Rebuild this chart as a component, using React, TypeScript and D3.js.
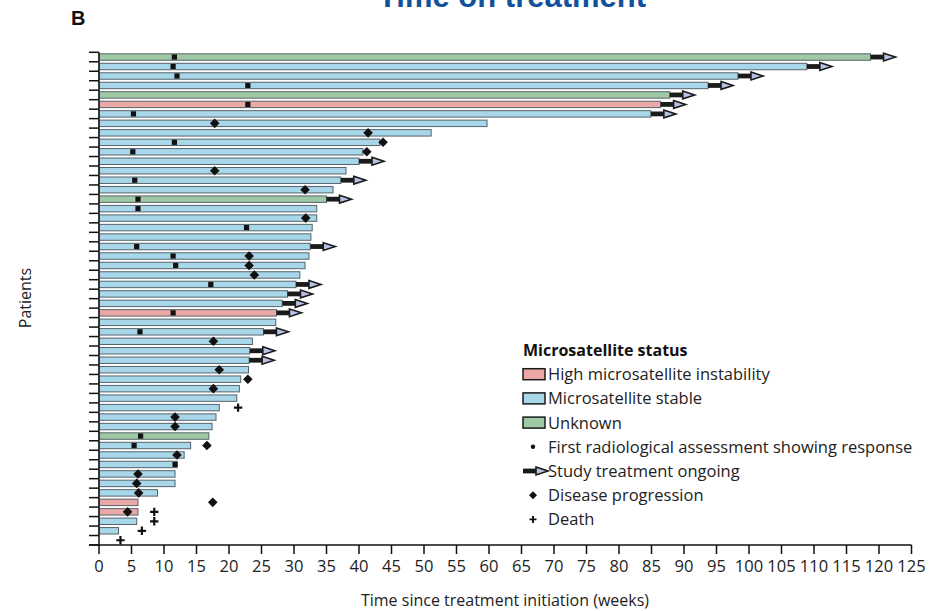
import React from "react";
import * as d3 from "d3";

// Microsatellite status per patient, top row first
const status: string[] = [
  "U", "MSS", "MSS", "MSS", "U", "MSI", "MSS", "MSS", "MSS", "MSS",
  "MSS", "MSS", "MSS", "MSS", "MSS", "U", "MSS", "MSS", "MSS", "MSS",
  "MSS", "MSS", "MSS", "MSS", "MSS", "MSS", "MSS", "MSI", "MSS", "MSS",
  "MSS", "MSS", "MSS", "MSS", "MSS", "MSS", "MSS", "MSS", "MSS", "MSS",
  "U", "MSS", "MSS", "MSS", "MSS", "MSS", "MSS", "MSI", "MSI", "MSS",
  "MSS", "MSS",
];

// Time on treatment (weeks)
const duration: number[] = [
  118.7, 108.9, 98.3, 93.7, 87.8, 86.4, 84.9, 59.7, 51.1, 43.2,
  40.6, 40.0, 38.0, 37.2, 36.0, 35.0, 33.5, 33.5, 32.8, 32.6,
  32.5, 32.3, 31.7, 30.9, 30.3, 29.0, 28.2, 27.3, 27.2, 25.3,
  23.6, 23.2, 23.1, 23.0, 21.8, 21.6, 21.2, 18.5, 18.0, 17.4,
  16.9, 14.1, 13.1, 12.0, 11.7, 11.7, 9.0, 6.0, 6.0, 5.8,
  3.0, 0,
];

// Study treatment still ongoing (1 = yes)
const ongoing: number[] = [
  1, 1, 1, 1, 1, 1, 1, 0, 0, 0,
  0, 1, 0, 1, 0, 1, 0, 0, 0, 0,
  1, 0, 0, 0, 1, 1, 1, 1, 0, 1,
  0, 1, 1, 0, 0, 0, 0, 0, 0, 0,
  0, 0, 0, 0, 0, 0, 0, 0, 0, 0,
  0, 0,
];

// First radiological assessment showing response (weeks)
const response: (number | null)[] = [
  11.6, 11.4, 12.0, 22.9, null, 22.9, 5.3, null, null, 11.6,
  5.2, null, null, 5.5, null, 6.0, 6.0, null, 22.7, null,
  5.8, 11.4, 11.8, null, 17.2, null, null, 11.4, null, 6.3,
  null, null, null, null, null, null, null, null, null, null,
  6.4, 5.4, null, 11.7, null, null, null, null, null, null,
  null, null,
];

// Disease progression (weeks)
const progression: (number | null)[] = [
  null, null, null, null, null, null, null, 17.8, 41.4, 43.7,
  41.2, null, 17.8, null, 31.7, null, null, 31.8, null, null,
  null, 23.1, 23.1, 23.9, null, null, null, null, null, null,
  17.6, null, null, 18.5, 22.9, 17.6, null, null, 11.7, 11.7,
  null, 16.6, 12.0, null, 6.0, 5.8, 6.1, 17.5, 4.4, null,
  null, null,
];

// Death (weeks)
const death: (number | null)[] = [
  null, null, null, null, null, null, null, null, null, null,
  null, null, null, null, null, null, null, null, null, null,
  null, null, null, null, null, null, null, null, null, null,
  null, null, null, null, null, null, null, 21.4, null, null,
  null, null, null, null, null, null, null, null, 8.5, 8.5,
  6.6, 3.3,
];

const xTicks: number[] = d3.range(0, 126, 5);

const statusKeys: string[] = ["MSI", "MSS", "U"];
const statusLabels: string[] = [
  "High microsatellite instability",
  "Microsatellite stable",
  "Unknown",
];
const statusColors: string[] = ["#eaa9a6", "#a8d7ea", "#9fc8a4"];

const markerLabels: string[] = [
  "First radiological assessment showing response",
  "Study treatment ongoing",
  "Disease progression",
  "Death",
];

const FONT = "'Open Sans', 'Noto Sans', sans-serif";

const diamondPath = (r: number) => `M0,${-r}L${r},0L0,${r}L${-r},0Z`;
const crossPath = (r: number) => `M${-r},0H${r}M0,${-r}V${r}`;

function Arrow({ x, y }: { x: number; y: number }) {
  return (
    <g transform={`translate(${x},${y})`}>
      <rect x={0} y={-2.4} width={14} height={4.8} fill="#1b1b1b" />
      <path
        d="M13,-3.9L25,0L13,3.9Z"
        fill="#b7c2e6"
        stroke="#1b1b1b"
        strokeWidth={1.6}
        strokeLinejoin="miter"
      />
    </g>
  );
}

export default function App() {
  const width = 933;
  const height = 611;
  const x0 = 99;
  const x1 = 911.5;
  const yTop = 52.3;
  const yBottom = 545;

  const x = d3.scaleLinear().domain([0, 125]).range([x0, x1]);
  const rows = d3.range(duration.length);
  const y = d3.scaleBand<number>().domain(rows).range([yTop, yBottom]).padding(0);
  const bw = y.bandwidth();
  const barH = bw * 0.68;
  const color = d3.scaleOrdinal<string, string>().domain(statusKeys).range(statusColors);

  const tickYs = [...rows.map((r) => y(r) as number), yBottom];

  const legX = 523;
  const legY0 = 350;
  const legStep = 24.2;

  return (
    <svg
      width={width}
      height={height}
      style={{ position: "absolute", left: 0, top: 0, background: "#fff" }}
      fontFamily={FONT}
    >
      {/* heading */}
      <text
        x={512}
        y={7}
        textAnchor="middle"
        fontFamily="'Liberation Sans', Arial, sans-serif"
        fontWeight="bold"
        fontSize={31}
        fill="#12519c"
      >
        Time on treatment
      </text>
      <text x={71} y={25} fontFamily="'Liberation Sans', Arial, sans-serif" fontWeight="bold" fontSize={20} fill="#111">
        B
      </text>

      {/* bars */}
      {rows.map((r) =>
        duration[r] > 0 ? (
          <rect
            key={`bar${r}`}
            x={x(0)}
            y={(y(r) as number) + (bw - barH) / 2}
            width={x(duration[r]) - x(0)}
            height={barH}
            fill={color(status[r])}
            stroke="#56636b"
            strokeWidth={1}
          />
        ) : null
      )}

      {/* ongoing arrows */}
      {rows.map((r) =>
        ongoing[r] ? <Arrow key={`arr${r}`} x={x(duration[r])} y={(y(r) as number) + bw / 2} /> : null
      )}

      {/* response squares */}
      {rows.map((r) =>
        response[r] != null ? (
          <rect
            key={`resp${r}`}
            x={x(response[r] as number) - 2.6}
            y={(y(r) as number) + bw / 2 - 2.6}
            width={5.2}
            height={5.2}
            fill="#111"
          />
        ) : null
      )}

      {/* progression diamonds */}
      {rows.map((r) =>
        progression[r] != null ? (
          <path
            key={`prog${r}`}
            transform={`translate(${x(progression[r] as number)},${(y(r) as number) + bw / 2})`}
            d={diamondPath(4.8)}
            fill="#111"
          />
        ) : null
      )}

      {/* deaths */}
      {rows.map((r) =>
        death[r] != null ? (
          <path
            key={`death${r}`}
            transform={`translate(${x(death[r] as number)},${(y(r) as number) + bw / 2})`}
            d={crossPath(4.2)}
            stroke="#111"
            strokeWidth={2.2}
            fill="none"
          />
        ) : null
      )}

      {/* y axis */}
      <line x1={x0} x2={x0} y1={yTop} y2={yBottom} stroke="#111" strokeWidth={1.5} />
      {tickYs.map((ty, i) => (
        <line key={`yt${i}`} x1={x0 - 10} x2={x0} y1={ty} y2={ty} stroke="#111" strokeWidth={1.5} />
      ))}
      <text
        transform={`translate(27,298) rotate(-90)`}
        textAnchor="middle"
        dominantBaseline="middle"
        fontSize={16}
        fill="#222"
      >
        Patients
      </text>

      {/* x axis */}
      <line x1={x0 - 10} x2={x1} y1={yBottom} y2={yBottom} stroke="#111" strokeWidth={1.5} />
      {xTicks.map((t) => (
        <g key={`xt${t}`}>
          <line x1={x(t)} x2={x(t)} y1={yBottom} y2={yBottom + 9} stroke="#111" strokeWidth={1.5} />
          <text x={x(t)} y={571.5} textAnchor="middle" fontSize={16.5} fill="#222">
            {t}
          </text>
        </g>
      ))}
      <text x={505} y={606} textAnchor="middle" fontSize={16} fill="#222">
        Time since treatment initiation (weeks)
      </text>

      {/* legend */}
      <text x={legX} y={legY0 + 6} fontSize={16} fontWeight="bold" fill="#111">
        Microsatellite status
      </text>
      {statusKeys.map((k, i) => {
        const cy = legY0 + legStep * (i + 1);
        return (
          <g key={`leg${k}`}>
            <rect x={legX} y={cy - 5.5} width={22} height={11} fill={color(k)} stroke="#1b1b1b" strokeWidth={1.5} />
            <text x={legX + 25} y={cy + 6} fontSize={16.5} fill="#222">
              {statusLabels[i]}
            </text>
          </g>
        );
      })}
      {markerLabels.map((lab, i) => {
        const cy = legY0 + legStep * (i + 4);
        let sym: React.ReactNode = null;
        if (i === 0) sym = <circle cx={legX + 10} cy={cy} r={2.2} fill="#111" />;
        if (i === 1) sym = <Arrow x={legX} y={cy} />;
        if (i === 2)
          sym = <path transform={`translate(${legX + 10},${cy})`} d={diamondPath(4)} fill="#111" />;
        if (i === 3)
          sym = (
            <path
              transform={`translate(${legX + 10},${cy})`}
              d={crossPath(3.5)}
              stroke="#111"
              strokeWidth={1.9}
              fill="none"
            />
          );
        return (
          <g key={`legm${i}`}>
            {sym}
            <text x={legX + 25} y={cy + 6} fontSize={16.5} fill="#222">
              {lab}
            </text>
          </g>
        );
      })}
    </svg>
  );
}
